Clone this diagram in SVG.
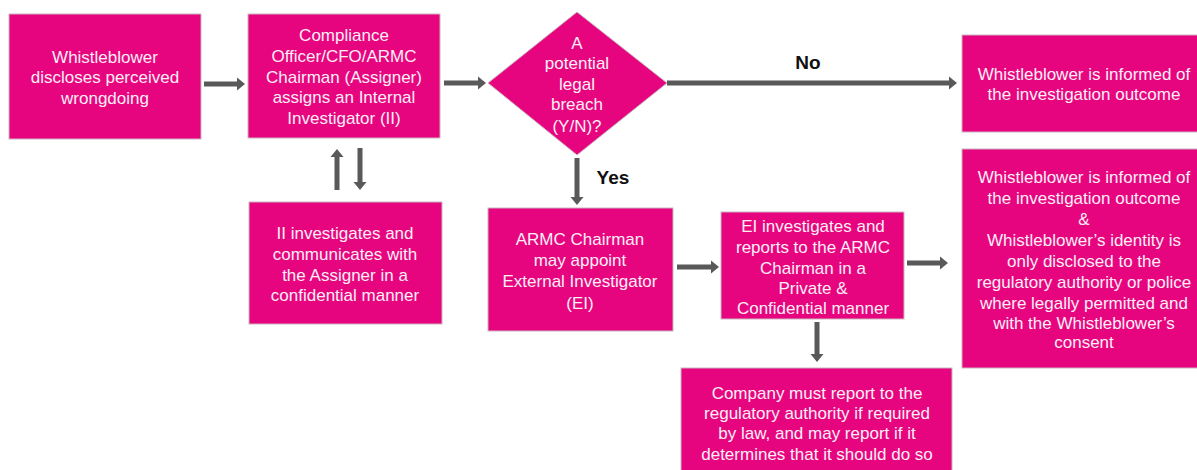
<svg xmlns="http://www.w3.org/2000/svg" width="1197" height="470" viewBox="0 0 1197 470">
<style>
.box{fill:#E6057F;stroke:#c9b6c0;stroke-width:1}
.t{font-family:"Liberation Sans",Arial,sans-serif;font-size:17px;fill:#fdeef6;text-anchor:middle}
.lbl{font-family:"Liberation Sans",Arial,sans-serif;font-size:19px;font-weight:bold;fill:#111;text-anchor:middle}
.c{stroke:#595959;stroke-width:5;fill:none;marker-end:url(#ah)}
</style>
<defs>
<marker id="ah" markerUnits="userSpaceOnUse" markerWidth="10" markerHeight="16" viewBox="0 -8 10 16" refX="0" refY="0" orient="auto">
<path d="M0,-6.5 L8,0 L0,6.5 z" fill="#595959"/>
</marker>
</defs>
<rect width="1197" height="470" fill="#fff"/>
<g id="connectors">
<line class="c" x1="204" y1="84" x2="237" y2="84"/>
<line class="c" x1="444" y1="83" x2="478" y2="83"/>
<line class="c" x1="667" y1="83" x2="949" y2="83"/>
<line class="c" x1="577" y1="158" x2="577" y2="197"/>
<line class="c" x1="337" y1="190" x2="337" y2="157"/>
<line class="c" x1="360" y1="148" x2="360" y2="182"/>
<line class="c" x1="677" y1="267" x2="711" y2="267"/>
<line class="c" x1="907" y1="263" x2="940" y2="263"/>
<line class="c" x1="817" y1="322" x2="817" y2="354"/>
<text class="lbl" x="808" y="69">No</text>
<text class="lbl" x="613" y="184">Yes</text>
</g>
<g id="n1">
<rect class="box" x="9" y="14" width="192" height="125"/>
<text class="t" x="105"><tspan x="105" y="63">Whistleblower</tspan><tspan x="105" y="83">discloses perceived</tspan><tspan x="105" y="104">wrongdoing</tspan></text>
</g>
<g id="n2">
<rect class="box" x="248" y="14" width="192" height="124"/>
<text class="t"><tspan x="344" y="41">Compliance</tspan><tspan x="344" y="62">Officer/CFO/ARMC</tspan><tspan x="344" y="83">Chairman (Assigner)</tspan><tspan x="344" y="103">assigns an Internal</tspan><tspan x="344" y="124">Investigator (II)</tspan></text>
</g>
<g id="n3">
<polygon class="box" points="577,12 667,83 577,155 488,83"/>
<text class="t"><tspan x="577" y="49">A</tspan><tspan x="577" y="69">potential</tspan><tspan x="577" y="90">legal</tspan><tspan x="577" y="110">breach</tspan><tspan x="577" y="132">(Y/N)?</tspan></text>
</g>
<g id="n4">
<rect class="box" x="962" y="35" width="245" height="97"/>
<text class="t"><tspan x="1084" y="80">Whistleblower is informed of</tspan><tspan x="1084" y="100">the investigation outcome</tspan></text>
</g>
<g id="n5">
<rect class="box" x="249" y="202" width="193" height="122"/>
<text class="t"><tspan x="345" y="239">II investigates and</tspan><tspan x="345" y="260">communicates with</tspan><tspan x="345" y="281">the Assigner in a</tspan><tspan x="345" y="301">confidential manner</tspan></text>
</g>
<g id="n6">
<rect class="box" x="488" y="208" width="185" height="123"/>
<text class="t"><tspan x="580" y="245">ARMC Chairman</tspan><tspan x="580" y="266">may appoint</tspan><tspan x="580" y="287">External Investigator</tspan><tspan x="580" y="309">(EI)</tspan></text>
</g>
<g id="n7">
<rect class="box" x="721" y="212" width="183" height="107"/>
<text class="t"><tspan x="813" y="232">EI investigates and</tspan><tspan x="813" y="253">reports to the ARMC</tspan><tspan x="813" y="274">Chairman in a</tspan><tspan x="813" y="294">Private &amp;</tspan><tspan x="813" y="314">Confidential manner</tspan></text>
</g>
<g id="n8">
<rect class="box" x="962" y="149" width="245" height="219"/>
<text class="t"><tspan x="1084" y="183">Whistleblower is informed of</tspan><tspan x="1084" y="204">the investigation outcome</tspan><tspan x="1084" y="225">&amp;</tspan><tspan x="1084" y="246">Whistleblower’s identity is</tspan><tspan x="1084" y="267">only disclosed to the</tspan><tspan x="1084" y="288">regulatory authority or police</tspan><tspan x="1084" y="309">where legally permitted and</tspan><tspan x="1084" y="329">with the Whistleblower’s</tspan><tspan x="1084" y="348">consent</tspan></text>
</g>
<g id="n9">
<rect class="box" x="681" y="368" width="271" height="110"/>
<text class="t"><tspan x="817" y="399">Company must report to the</tspan><tspan x="817" y="419">regulatory authority if required</tspan><tspan x="817" y="439">by law, and may report if it</tspan><tspan x="817" y="460">determines that it should do so</tspan></text>
</g>
</svg>
